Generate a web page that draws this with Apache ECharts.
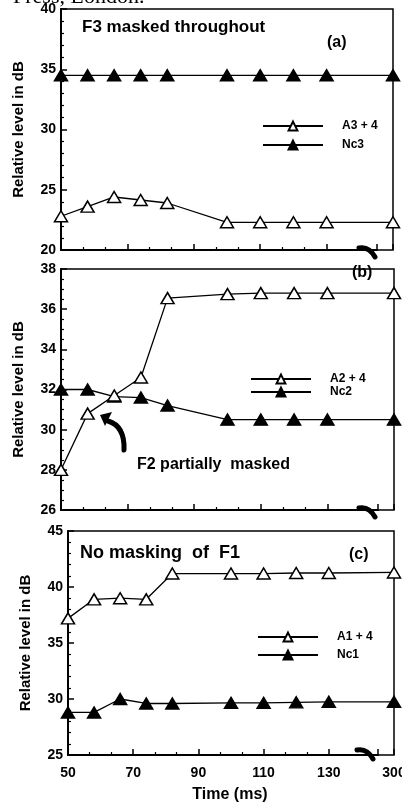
<!DOCTYPE html>
<html>
<head>
<meta charset="utf-8">
<script src="https://cdn.jsdelivr.net/npm/echarts@6/dist/echarts.min.js"></script>
<style>
  html, body { margin: 0; padding: 0; background: #fff; }
  #chart { width: 402px; height: 805px; }
</style>
</head>
<body>
<div id="chart"></div>
<script>
// time points (ms); the last one sits after the axis break
const times = [50, 58, 66, 74, 82, 100, 110, 120, 130, 300];
const xTickLabels = [50, 70, 90, 110, 130, 300];

// panel (a) F3
const a34 = [22.8, 23.6, 24.4, 24.15, 23.9, 22.3, 22.3, 22.3, 22.3, 22.3];
const nc3 = [34.5, 34.5, 34.5, 34.5, 34.5, 34.5, 34.5, 34.5, 34.5, 34.5];
// panel (b) F2
const a24 = [28.0, 30.8, 31.7, 32.6, 36.55, 36.75, 36.8, 36.8, 36.8, 36.8];
const nc2 = [32.0, 32.0, 31.65, 31.6, 31.2, 30.5, 30.5, 30.5, 30.5, 30.5];
// panel (c) F1
const a14 = [37.2, 38.9, 39.0, 38.9, 41.2, 41.2, 41.2, 41.25, 41.25, 41.3];
const nc1 = [28.8, 28.8, 30.0, 29.6, 29.6, 29.65, 29.65, 29.7, 29.75, 29.75];

const FONT = 'Liberation Sans';
const black = '#000';

const grids = [
    { left: 61, top: 9, width: 332, height: 241 },
    { left: 61, top: 269, width: 333, height: 241 },
    { left: 68, top: 531, width: 326, height: 224 }
];
const yRanges = [
    { min: 20, max: 40, interval: 5, split: 5 },
    { min: 26, max: 38, interval: 2, split: 4 },
    { min: 25, max: 45, interval: 5, split: 5 }
];

function xAxis(i) {
    return {
        type: 'value', gridIndex: i, min: 50, max: 300, interval: 20,
        breaks: [{ start: 145, end: 300, gap: 5 }],
        breakArea: { show: false },
        breakLabelLayout: { moveOverlap: false },
        axisLine: { lineStyle: { color: black, width: 2 } },
        axisTick: { inside: true, length: 6, lineStyle: { color: black, width: 1.5 } },
        minorTick: { show: true, splitNumber: 3, length: 3, lineStyle: { color: black, width: 1.2 } },
        splitLine: { show: false },
        axisLabel: {
            show: i === 2, color: black, fontFamily: FONT, fontWeight: 'bold', fontSize: 14, margin: 11,
            formatter: v => xTickLabels.includes(v) ? String(v) : ''
        }
    };
}

function yAxis(i) {
    const r = yRanges[i];
    return {
        type: 'value', gridIndex: i, min: r.min, max: r.max, interval: r.interval,
        axisLine: { show: true, lineStyle: { color: black, width: 2 } },
        axisTick: { inside: true, length: 6, lineStyle: { color: black, width: 1.5 } },
        minorTick: { show: true, splitNumber: r.split, length: 3, lineStyle: { color: black, width: 1.2 } },
        splitLine: { show: false },
        axisLabel: { color: black, fontFamily: FONT, fontWeight: 'bold', fontSize: 14, margin: 5 },
        name: 'Relative level in dB', nameLocation: 'middle', nameGap: 35,
        nameTextStyle: { color: black, fontFamily: FONT, fontWeight: 'bold', fontSize: 15 }
    };
}

function line(name, values, filled, i) {
    return {
        name: name, type: 'line', xAxisIndex: i, yAxisIndex: i,
        data: times.map((t, k) => [t, values[k]]),
        symbol: 'triangle', symbolSize: [13, 11], showAllSymbol: true,
        lineStyle: { color: black, width: 1.3 },
        itemStyle: { color: filled ? black : '#fff', borderColor: black, borderWidth: 1.5 },
        z: filled ? 2 : 3
    };
}

function legend(names, left, top, gap) {
    return {
        data: names, orient: 'vertical', left: left, top: top,
        itemWidth: 60, itemHeight: 11, itemGap: gap,
        textStyle: { color: black, fontFamily: FONT, fontWeight: 'bold', fontSize: 12, padding: [0, 0, 0, 14] }
    };
}

function label(text, x, y, size, align) {
    return {
        type: 'text', x: x, y: y,
        style: { text: text, fill: black, font: 'bold ' + size + 'px "' + FONT + '"', align: align || 'left', verticalAlign: 'middle' }
    };
}

function squiggle(x, y) {
    return {
        type: 'bezierCurve',
        shape: { x1: x, y1: y, x2: x + 16, y2: y + 9, cpx1: x + 10, cpy1: y - 2 },
        style: { stroke: black, lineWidth: 5, lineCap: 'round', fill: null }
    };
}

const chart = echarts.init(document.getElementById('chart'));
chart.setOption({
    animation: false,
    backgroundColor: '#fff',
    grid: grids.map(g => Object.assign({ show: true, borderColor: black, borderWidth: 1.5, outerBoundsMode: 'none' }, g)),
    xAxis: [0, 1, 2].map(xAxis),
    yAxis: [0, 1, 2].map(yAxis),
    legend: [
        legend(['A3 + 4', 'Nc3'], 257, 115, 7),
        legend(['A2 + 4', 'Nc2'], 245, 368, 1),
        legend(['A1 + 4', 'Nc1'], 252, 626, 6)
    ],
    series: [
        line('Nc3', nc3, true, 0), line('A3 + 4', a34, false, 0),
        line('Nc2', nc2, true, 1), line('A2 + 4', a24, false, 1),
        line('Nc1', nc1, true, 2), line('A1 + 4', a14, false, 2)
    ],
    graphic: [
        { type: 'text', left: 13, top: -14, style: { text: 'Press, London.', fill: black, font: '22px "Liberation Serif"' } },
        label('F3 masked throughout', 82, 27, 17),
        label('(a)', 327, 43, 16),
        label('(b)', 352, 273, 16),
        label('F2 partially  masked', 137, 465, 16),
        label('No masking  of  F1', 80, 553, 18),
        label('(c)', 349, 555, 16),
        label('Time (ms)', 230, 795, 16, 'center'),
        squiggle(359, 248), squiggle(359, 508), squiggle(357, 750),
        {
            type: 'bezierCurve',
            shape: { x1: 124, y1: 450, x2: 108, y2: 421, cpx1: 125, cpy1: 426 },
            style: { stroke: black, lineWidth: 5, lineCap: 'round', fill: null }
        },
        {
            type: 'polygon',
            shape: { points: [[100, 415], [112, 412], [105, 426]] },
            style: { fill: black }
        }
    ]
});
</script>
</body>
</html>
